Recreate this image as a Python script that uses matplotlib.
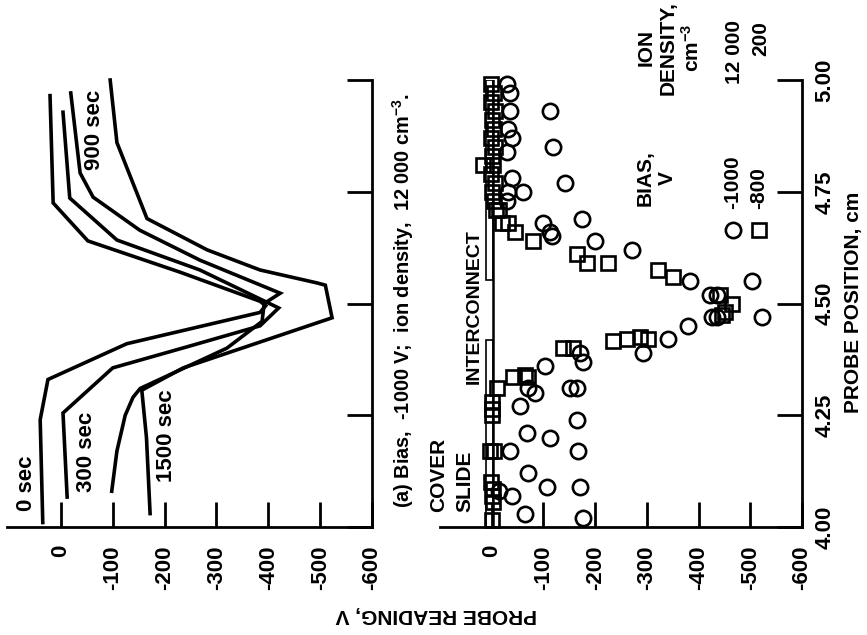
import matplotlib
matplotlib.use("Agg")
import matplotlib.pyplot as plt
from matplotlib.patches import Rectangle

plt.rcParams["font.family"] = ["Liberation Sans Narrow", "Liberation Sans", "DejaVu Sans"]
plt.rcParams["font.weight"] = "bold"
plt.rcParams["mathtext.default"] = "regular"

# ---------------- axes ----------------
reading_ticks = [0, -100, -200, -300, -400, -500, -600]
reading_labels = ["0", "-100", "-200", "-300", "-400", "-500", "-600"]
position_ticks = [4.00, 4.25, 4.50, 4.75, 5.00]
position_labels = ["4.00", "4.25", "4.50", "4.75", "5.00"]

# ---------------- panel (a): probe reading after exposure time ----------------
time_labels = ["0 sec", "300 sec", "900 sec", "1500 sec"]

t0_reading = [35, 40, 25, -127, -384, -395, -384, -230, -52, 15, 21]
t0_position = [4.01, 4.24, 4.33, 4.41, 4.48, 4.495, 4.505, 4.57, 4.64, 4.725, 4.965]

t300_reading = [-12, -4, -100, -243, -384, -420, -268, -108, -17, -4]
t300_position = [4.067, 4.255, 4.356, 4.403, 4.45, 4.49, 4.575, 4.642, 4.736, 4.928]

t900_reading = [-98, -108, -124, -139, -153, -320, -388, -392, -423, -268, -152, -62, -37, -19]
t900_position = [4.08, 4.17, 4.25, 4.29, 4.31, 4.40, 4.46, 4.50, 4.523, 4.597, 4.664, 4.738, 4.792, 4.971]

t1500_reading = [-172, -165, -156, -236, -523, -510, -494, -384, -282, -166, -108, -95]
t1500_position = [4.03, 4.20, 4.306, 4.356, 4.468, 4.541, 4.546, 4.575, 4.62, 4.69, 4.86, 5.00]

# ---------------- panel (b): measured probe readings ----------------
# bias -1000 V, ion density 12 000 cm^-3
circ_reading = [-29, -35, -35, -31, -39, -29, -112, -118, -141, -39, -60, -31, -29,
                -174, -99, -112, -116, -199, -271, -383, -422, -435, -503, -426,
                -435, -379, -341, -292, -523, -170, -176, -103, -70, -83, -54,
                -165, -151, -165, -68, -112, -35, -166, -70, -106, -170, -39,
                -15, -64, -176]
circ_position = [4.99, 4.97, 4.93, 4.89, 4.87, 4.84, 4.93, 4.85, 4.77, 4.78, 4.75, 4.75, 4.73,
                 4.69, 4.68, 4.66, 4.65, 4.64, 4.62, 4.55, 4.52, 4.52, 4.55, 4.47,
                 4.47, 4.45, 4.42, 4.39, 4.47, 4.39, 4.37, 4.36, 4.31, 4.30, 4.27,
                 4.31, 4.31, 4.24, 4.21, 4.20, 4.17, 4.17, 4.12, 4.09, 4.09, 4.07,
                 4.08, 4.03, 4.02]

# bias -800 V, ion density 200 cm^-3
sq_reading = [2, -4, 2, -6, 0, -4, 2, -6, 0, -2, 2, -6, 0, -4, -8, 17,
              -15, -19, -31, -45, -79, -165, -184, -225, -321, -350, -441, -464,
              -451, -445, -261, -286, -302, -234, -137, -157, -10, -41, -64, -70,
              0, 0, 0, 4, -4, 2, -2, 0, -2, 0]
sq_position = [4.99, 4.97, 4.95, 4.93, 4.91, 4.89, 4.87, 4.85, 4.83, 4.81, 4.79, 4.77, 4.75, 4.73, 4.71, 4.81,
               4.71, 4.68, 4.68, 4.66, 4.64, 4.61, 4.59, 4.59, 4.575, 4.56, 4.52, 4.50,
               4.48, 4.475, 4.42, 4.425, 4.42, 4.415, 4.40, 4.40, 4.31, 4.335, 4.34, 4.335,
               4.28, 4.265, 4.25, 4.17, 4.17, 4.10, 4.085, 4.07, 4.055, 4.015]

# cover slide extents along the probe path
slide_spans = [(4.00, 4.418), (4.553, 5.00)]

W, H = 867, 635
fig = plt.figure(figsize=(W / 100, H / 100), dpi=100)
TXT = 16


def label(x, y, s, **kw):
    kw.setdefault("fontsize", TXT)
    kw.setdefault("rotation", 90)
    kw.setdefault("ha", "center")
    kw.setdefault("va", "center")
    return fig.text(x / W, 1 - y / H, s, **kw)


def panel(x0, x1, xmax, pos_labels):
    ax = fig.add_axes([x0 / W, 1 - 527 / H, (x1 - x0) / W, 447 / H])
    ax.set_xlim(xmax, -600)
    ax.set_ylim(4.0, 5.0)
    for s in ("top", "left"):
        ax.spines[s].set_visible(False)
    for s in ("bottom", "right"):
        ax.spines[s].set_linewidth(2.0)
    ax.yaxis.tick_right()
    ax.set_xticks(reading_ticks)
    ax.set_xticklabels(reading_labels, rotation=90, fontsize=TXT)
    ax.set_yticks(position_ticks)
    if pos_labels:
        ax.set_yticklabels(position_labels, rotation=90, fontsize=TXT, va="center")
    else:
        ax.set_yticklabels([])
    ax.tick_params(axis="both", direction="in", length=18, width=2.0)
    ax.tick_params(axis="x", pad=13)
    ax.tick_params(axis="y", pad=9)
    ax.patch.set_alpha(0)
    return ax


# panel (a)
axa = panel(7, 372, 104, False)
line_kw = dict(color="black", lw=2.6, solid_joinstyle="miter", clip_on=False)
axa.plot(t0_reading, t0_position, **line_kw)
axa.plot(t300_reading, t300_position, **line_kw)
axa.plot(t900_reading, t900_position, **line_kw)
axa.plot(t1500_reading, t1500_position, **line_kw)

label(27, 483, time_labels[0])
label(86, 452, time_labels[1])
label(95, 130, time_labels[2])
label(167, 436, time_labels[3])
label(403, 508, "(a) Bias,  -1000 V;  ion density,  12 000 cm$^{-3}$.", va="bottom", fontsize=14.3)

# panel (b)
axb = panel(440, 802, 100, True)
axb.axvline(-2, 0, 1, color="black", lw=1.8)
for lo, hi in slide_spans:
    axb.add_patch(Rectangle((-2, lo), 12.5, hi - lo, fill=False, lw=1.2, ec="black"))
mk = dict(ls="none", mfc="none", mec="black", mew=1.9, clip_on=False)
axb.plot(circ_reading, circ_position, marker="o", ms=11, **mk)
axb.plot(sq_reading, sq_position, marker="s", ms=10.5, **mk)

label(474, 307, "INTERCONNECT", fontsize=14)
label(439, 512, "COVER", va="bottom", fontsize=15)
label(465, 512, "SLIDE", va="bottom", fontsize=15)

# legend
label(656, 178, "BIAS,\nV", multialignment="center", fontsize=15)
label(670, 48, "ION\nDENSITY,\ncm$^{-3}$", multialignment="center", fontsize=15)
label(733, 182, "-1000", fontsize=15)
label(759, 188, "-800", fontsize=15)
label(734, 52, "12 000", fontsize=15)
label(761, 39, "200", fontsize=15)
axb.plot([(733 - 440) / 362], [(527 - 230) / 447], marker="o", ms=11,
         transform=axb.transAxes, **mk)
axb.plot([(759 - 440) / 362], [(527 - 230) / 447], marker="s", ms=10.5,
         transform=axb.transAxes, **mk)

# axis titles
label(436, 615, "PROBE READING, V", rotation=180, fontsize=15)
label(853, 302, "PROBE POSITION, cm", fontsize=15)

fig.savefig("out.png", dpi=100)
